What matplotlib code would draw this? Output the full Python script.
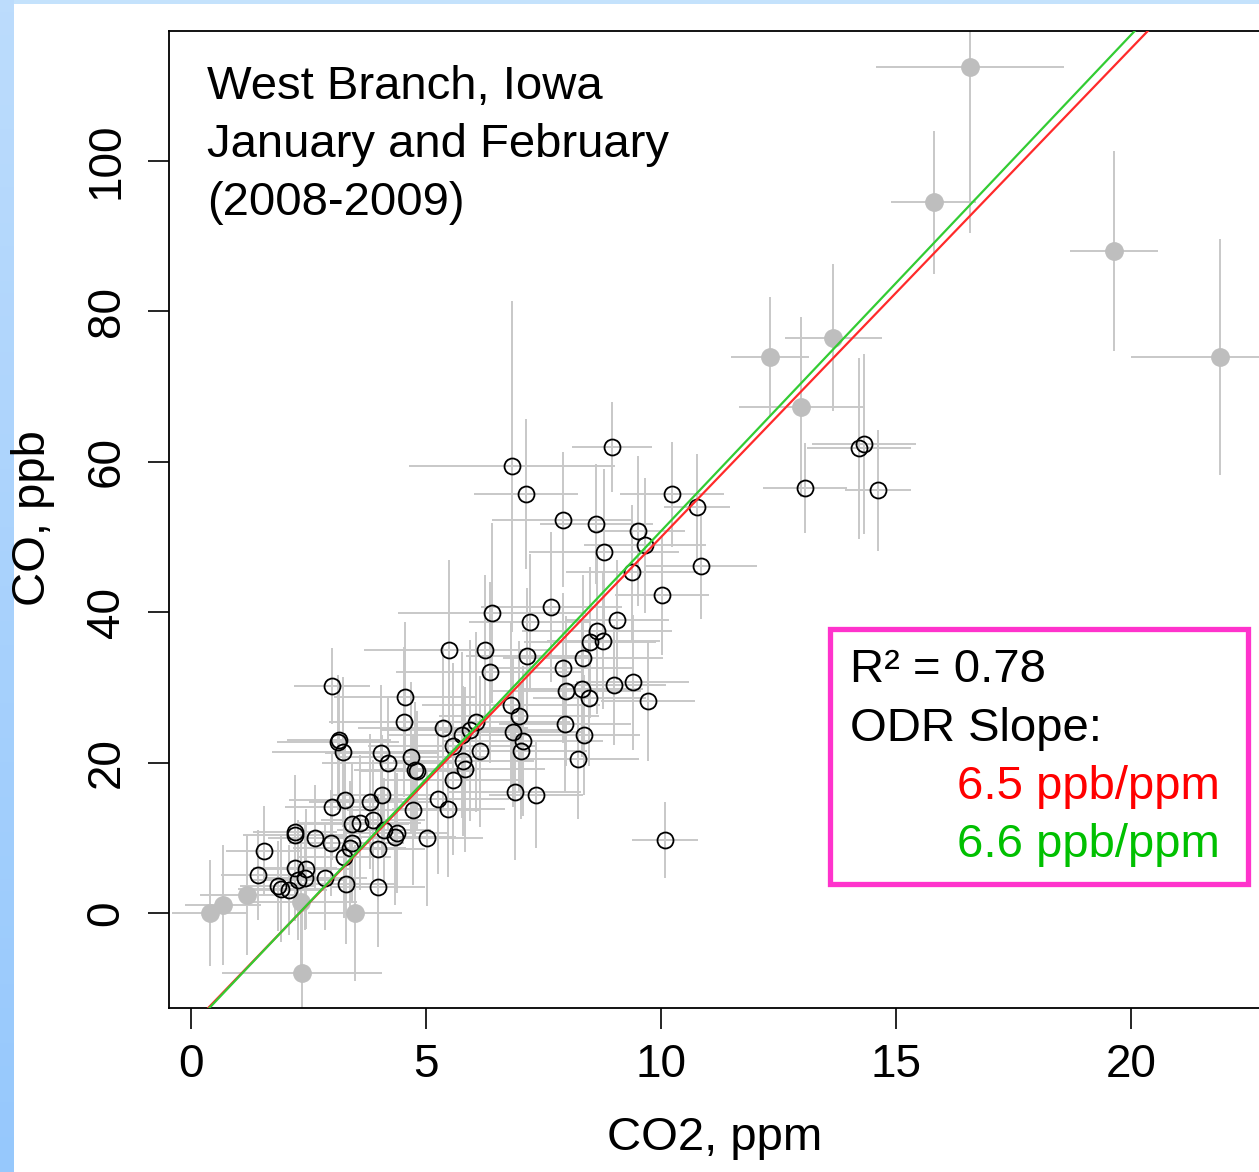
import matplotlib
matplotlib.use("Agg")
import matplotlib.pyplot as plt
from matplotlib.patches import Rectangle
import numpy as np

plt.rcParams['font.family'] = ['Liberation Sans', 'DejaVu Sans']

# included points (open black circles)
co2 = [6.83, 8.96, 7.13, 10.23, 10.77, 7.91, 8.62, 9.51, 9.66, 8.79,
       10.85, 9.38, 10.02, 7.66, 6.40, 7.21, 9.06, 8.64, 8.77, 8.49,
       5.49, 6.26, 7.15, 8.34, 7.91, 6.36, 3.00, 9.00, 9.40, 7.98,
       8.32, 4.55, 8.47, 9.72, 6.81, 6.98, 4.53, 6.06, 7.96, 5.36,
       6.85, 5.77, 8.36, 5.94, 7.06, 3.13, 3.15, 3.23, 5.57, 6.15,
       7.02, 4.04, 8.23, 4.68, 4.19, 5.79, 5.83, 4.81, 4.77, 5.57,
       4.06, 6.89, 7.34, 3.28, 5.26, 3.00, 3.81, 4.72, 5.47, 3.87,
       3.60, 3.43, 4.11, 4.38, 4.34, 2.21, 2.21, 2.64, 5.02, 2.98,
       3.43, 3.38, 3.98, 1.55, 3.26, 2.21, 2.45, 1.43, 2.85, 2.28,
       2.43, 3.30, 1.85, 1.91, 2.09, 3.98, 10.09, 13.06, 14.21, 14.32,
       14.62]
co = [59.4, 62.0, 55.7, 55.7, 54.0, 52.3, 51.7, 50.8, 48.9, 48.0,
      46.1, 45.3, 42.3, 40.7, 39.9, 38.7, 39.0, 37.5, 36.2, 36.0,
      35.0, 35.0, 34.2, 33.9, 32.6, 32.0, 30.2, 30.3, 30.7, 29.5,
      29.8, 28.7, 28.6, 28.2, 27.7, 26.2, 25.4, 25.4, 25.1, 24.6,
      24.1, 23.7, 23.7, 24.3, 22.9, 22.7, 23.0, 21.4, 22.2, 21.5,
      21.5, 21.3, 20.5, 20.7, 19.9, 20.2, 19.1, 18.9, 19.0, 17.7,
      15.7, 16.1, 15.7, 15.0, 15.2, 14.1, 14.8, 13.7, 13.8, 12.4,
      12.0, 11.8, 11.0, 10.6, 10.1, 10.8, 10.4, 10.0, 10.0, 9.3,
      9.3, 8.6, 8.5, 8.2, 7.4, 6.0, 5.9, 5.1, 4.7, 4.4,
      4.7, 3.9, 3.6, 3.2, 3.1, 3.5, 9.7, 56.5, 61.8, 62.4,
      56.2]
co2_err = [2.2, 0.85, 1.1, 1.1, 0.7, 1.5, 1.2, 1.0, 1.3, 1.6,
           1.2, 1.4, 1.0, 1.5, 2.0, 1.3, 1.1, 1.6, 1.2, 1.4,
           1.8, 1.4, 1.3, 1.7, 1.5, 2.0, 0.8, 1.1, 1.2, 1.6,
           1.3, 1.5, 1.2, 1.0, 1.9, 1.7, 1.6, 2.0, 1.4, 1.8,
           1.5, 1.6, 1.2, 1.9, 1.7, 1.3, 1.1, 1.5, 1.8, 1.6,
           1.4, 1.2, 1.3, 1.6, 1.4, 1.5, 1.7, 1.2, 1.3, 1.5,
           1.1, 1.4, 1.0, 1.2, 1.5, 1.0, 1.3, 1.4, 1.2, 1.1,
           1.3, 1.2, 1.0, 1.1, 1.3, 0.9, 1.1, 1.0, 1.2, 0.9,
           1.1, 1.2, 1.0, 0.8, 1.0, 0.9, 1.0, 0.8, 0.9, 1.0,
           0.9, 1.1, 0.8, 0.9, 0.8, 1.0, 0.7, 0.9, 1.1, 1.1,
           0.7]
co_err = [22.0, 6.0, 10.0, 7.0, 7.0, 9.0, 8.0, 10.0, 9.0, 11.0,
          7.0, 9.0, 8.0, 10.0, 12.0, 9.0, 8.0, 11.0, 9.0, 10.0,
          12.0, 10.0, 9.0, 11.0, 10.0, 12.0, 5.0, 8.0, 9.0, 10.0,
          9.0, 10.0, 9.0, 8.0, 11.0, 10.0, 10.0, 12.0, 9.0, 11.0,
          10.0, 11.0, 8.0, 12.0, 10.0, 9.0, 8.0, 10.0, 11.0, 10.0,
          9.0, 9.0, 8.0, 10.0, 9.0, 10.0, 11.0, 8.0, 9.0, 10.0,
          8.0, 9.0, 7.0, 9.0, 10.0, 7.0, 9.0, 10.0, 9.0, 8.0,
          9.0, 8.0, 7.0, 8.0, 9.0, 7.0, 8.0, 7.0, 9.0, 7.0,
          8.0, 9.0, 7.0, 6.0, 8.0, 7.0, 8.0, 6.0, 7.0, 8.0,
          7.0, 8.0, 6.0, 7.0, 6.0, 8.0, 5.0, 6.0, 12.0, 12.0,
          8.0]

# excluded points (filled gray)
co2_ex = [16.57, 15.80, 19.64, 21.90, 12.32, 13.66, 12.98,
          0.40, 0.68, 1.19, 2.34, 3.49, 2.36]
co_ex = [112.5, 94.5, 88.0, 73.9, 73.9, 76.5, 67.3,
         0.0, 1.1, 2.4, 1.5, 0.0, -8.0]
co2_ex_err = [2.0, 0.9, 0.94, 1.9, 0.83, 1.03, 1.32,
              0.8, 0.8, 1.0, 1.2, 1.0, 1.7]
co_ex_err = [22.0, 9.5, 13.3, 15.7, 8.0, 9.8, 12.0,
             7.0, 8.0, 8.0, 9.0, 9.0, 9.0]

# ODR fits: (slope, intercept)
fit_red = (6.5, -15.0)
fit_green = (6.6, -15.2)

W, H = 1259, 1172
fig = plt.figure(figsize=(W / 100, H / 100), dpi=100)
fig.patch.set_facecolor('#c4e2fc')
# left blue strip gradient + white panel
grad = fig.add_axes([0, 0, 14 / W, 1])
grad.imshow(np.linspace(0, 1, 100).reshape(-1, 1), aspect='auto',
            cmap=matplotlib.colors.LinearSegmentedColormap.from_list('b', ['#bcdcfc', '#96c8fc']))
grad.axis('off')
fig.patches.append(Rectangle((14 / W, 0), 1 - 14 / W, 1 - 4 / H,
                             transform=fig.transFigure, facecolor='white',
                             edgecolor='none', zorder=-5))


def fx(px):
    return px / W


def fy(py):
    return 1 - py / H


ax = fig.add_axes([fx(169), fy(1008), (1267 - 169) / W, (1008 - 31) / H])
ax.set_xlim(-0.468, 22.89)
ax.set_ylim(-12.63, 117.3)
ax.set_facecolor('none')

ax.errorbar(co2, co, xerr=co2_err, yerr=co_err, fmt='none',
            ecolor='#c8c8c8', elinewidth=1.4, capsize=0, zorder=1)
ax.errorbar(co2_ex, co_ex, xerr=co2_ex_err, yerr=co_ex_err, fmt='none',
            ecolor='#c8c8c8', elinewidth=1.4, capsize=0, zorder=1)
ax.plot(co2_ex, co_ex, 'o', ms=12.5, color='#bebebe', mec='#bebebe', zorder=2)
ax.plot(co2, co, 'o', ms=11.5, mfc='none', mec='black', mew=1.3, zorder=3)

xs = np.array(ax.get_xlim())
ax.plot(xs, fit_red[0] * xs + fit_red[1], color='#ff2a2a', lw=1.6, zorder=4)
ax.plot(xs, fit_green[0] * xs + fit_green[1], color='#33cc33', lw=1.6, zorder=4)

ax.set_xticks([0, 5, 10, 15, 20])
ax.set_yticks([0, 20, 40, 60, 80, 100])
ax.tick_params(axis='both', length=15, width=1.2, labelsize=33)
ax.tick_params(axis='y', pad=14)
ax.tick_params(axis='x', pad=10)
for lbl in ax.get_yticklabels():
    lbl.set_rotation(90)
    lbl.set_va('center')
for s in ['left', 'bottom', 'top']:
    ax.spines[s].set_linewidth(1.3)
ax.spines['right'].set_visible(False)

fig.text(fx(715), fy(1138), 'CO2, ppm', fontsize=34, ha='center', va='center')
fig.text(fx(33), fy(518), 'CO, ppb', fontsize=34, ha='center', va='center',
         rotation=90)

fig.text(fx(207), fy(87), 'West Branch, Iowa', fontsize=34, va='center')
fig.text(fx(207), fy(145), 'January and February', fontsize=34, va='center')
fig.text(fx(207), fy(203), '(2008-2009)', fontsize=34, va='center')

fig.patches.append(Rectangle((fx(830), fy(884)), (1248 - 830) / W, (884 - 629) / H,
                             transform=fig.transFigure, facecolor='white',
                             edgecolor='#ff33cc', lw=3.8, zorder=5))
fig.text(fx(850), fy(670), 'R² = 0.78', fontsize=34, va='center', zorder=6)
fig.text(fx(850), fy(729), 'ODR Slope:', fontsize=34, va='center', zorder=6)
fig.text(fx(1220), fy(787), '6.5 ppb/ppm', fontsize=34, va='center', ha='right',
         color='#ff0000', zorder=6)
fig.text(fx(1220), fy(845), '6.6 ppb/ppm', fontsize=34, va='center', ha='right',
         color='#00c000', zorder=6)

fig.savefig('out.png', dpi=100)
